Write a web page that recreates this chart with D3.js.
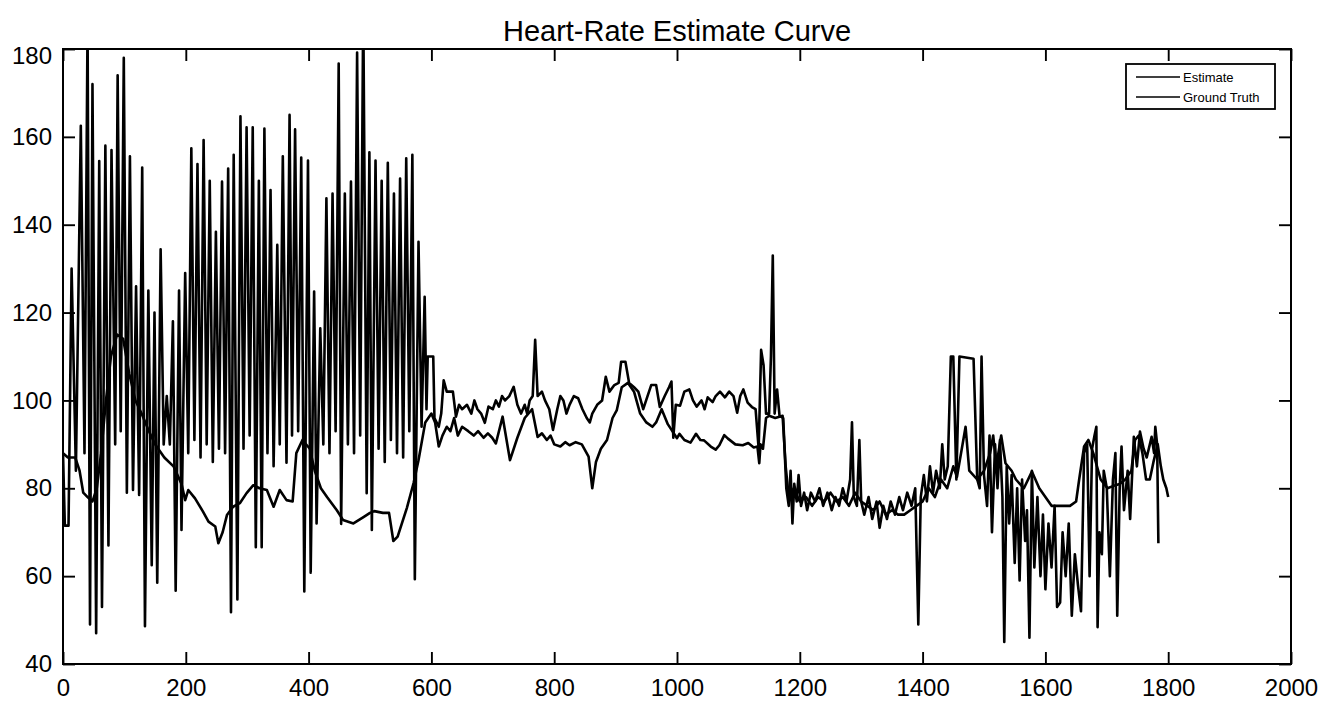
<!DOCTYPE html>
<html>
<head>
<meta charset="utf-8">
<script src="https://cdn.jsdelivr.net/npm/d3@7"></script>
<style>
  body { margin: 0; background: #fff; }
  text { font-family: "Liberation Sans", Arial, sans-serif; fill: #000; }
</style>
</head>
<body>
<div id="chart"></div>
<script>
// chart data: [sample index, heart rate]
var estimate = [
  [0, 88], [3, 71.5], [9, 71.5], [14, 130], [21, 84], [29, 162.5], [35, 88], [40, 186], [44, 49], [48, 172],
  [54, 47], [59, 154.5], [63.5, 53], [69, 158], [74, 67], [79, 157], [85, 90], [89, 174], [94, 93], [99, 178],
  [104, 79], [109, 155.6], [114, 79.6], [119, 126], [124, 78.5], [129, 153], [133.5, 48.6], [139, 125], [144.5, 62.5], [149, 120],
  [153.5, 58.5], [159, 134.4], [164, 90], [169, 101], [174, 90], [179, 118], [183.5, 56.7], [189, 125], [193, 70.5], [199, 129],
  [204, 88], [209, 157.4], [214, 91], [219, 153.8], [224, 87], [229, 159.3], [234, 90], [239, 150], [244, 86], [249, 138.4],
  [254, 89], [259, 149.8], [264, 88], [269, 152.8], [273.6, 51.8], [278, 155.9], [284, 54.7], [289, 164.7], [294, 89], [299, 162.2],
  [304, 92], [309, 162.2], [314, 66.6], [319, 150], [323.6, 66.6], [328, 161.9], [333, 88], [338, 147.9], [343, 85], [349, 135.4],
  [353, 90], [358, 155.6], [364, 85.8], [369, 165], [373, 92], [378, 161.7], [383, 93], [388, 155.3], [393, 56.5], [399, 154.6],
  [403.4, 60.8], [409, 124.8], [413, 72], [419, 116.4], [424, 90], [429, 146], [434, 88], [439, 147.1], [444, 93], [449, 176.7],
  [453, 71.9], [459, 147.1], [464, 90], [469, 149.8], [474, 88], [479, 179.2], [484, 92], [489, 190], [494.6, 78.9], [499, 156.5],
  [503, 70.5], [509, 154.6], [514, 89], [519, 150], [524, 86], [529, 154.1], [534, 91], [539, 147.1], [544, 88], [549, 150.5],
  [554, 87], [559, 155.1], [564, 93], [569, 155.9], [573, 59.3], [579, 136.1], [584, 94], [589, 123.6], [592, 98], [594, 110],
  [603, 110], [605, 96], [612, 94], [616, 97], [620, 104.6], [625, 102], [635, 102], [640, 96.3], [645, 99], [650, 98],
  [658, 99], [665, 97], [670, 100], [675, 98], [681, 97], [687, 94.9], [693, 98.6], [700, 98], [705, 100], [710, 98.6],
  [715, 101], [720, 100], [727, 101], [734, 103.1], [740, 99], [746, 97], [752, 99], [756, 97], [760, 100], [765, 101],
  [769, 113.8], [773, 101], [780, 102], [785, 100], [792, 98], [798, 93.3], [805, 98], [810, 101], [815, 100], [820, 97],
  [825, 99], [832, 101], [839, 100.5], [846, 98], [853, 96], [858, 95], [862, 97], [870, 99], [878, 100], [884, 105.4],
  [890, 102], [898, 103.5], [905, 104], [909, 108.8], [916, 108.8], [922, 104], [930, 103], [937, 102], [945, 98], [952, 101],
  [958, 103.5], [966, 103.5], [972, 98.5], [980, 101], [987, 103], [991, 104.3], [994, 91.5], [998, 99], [1005, 98.8], [1012, 102],
  [1020, 102.5], [1026, 100], [1032, 98.6], [1040, 100], [1045, 98], [1050, 100.7], [1058, 99.6], [1063, 101], [1070, 102], [1078, 100.7],
  [1085, 102], [1092, 101], [1098, 97.2], [1103, 101], [1108, 102.5], [1115, 99.5], [1122, 98.5], [1128, 98], [1133, 89], [1137, 111.5],
  [1141, 108], [1145, 97], [1150, 97], [1153, 110], [1156, 133], [1159, 97], [1163, 102.5], [1167, 96.5], [1173, 96], [1178, 80],
  [1182, 76], [1185, 84], [1188, 72], [1191, 81], [1195, 77], [1198, 83], [1202, 76], [1207, 79], [1212, 75], [1218, 79],
  [1225, 77], [1232, 80], [1238, 76], [1245, 79], [1252, 75], [1258, 78], [1264, 76], [1270, 80], [1276, 77], [1282, 82],
  [1285, 95], [1288, 78], [1293, 76], [1297, 91], [1300, 77], [1305, 74], [1312, 78], [1318, 73], [1325, 77], [1330, 71],
  [1336, 76], [1342, 73], [1348, 77], [1355, 74], [1362, 78], [1368, 75], [1375, 79], [1382, 76], [1388, 80], [1393, 49],
  [1397, 78], [1402, 83], [1407, 77], [1412, 85], [1417, 79], [1422, 84], [1428, 80], [1432, 90], [1436, 82], [1441, 85],
  [1446, 110], [1450, 110], [1455, 82], [1460, 110], [1483, 109.5], [1489, 82], [1493, 80], [1496, 110], [1500, 83], [1505, 76],
  [1509, 92], [1513, 70], [1518, 90], [1522, 80], [1526, 91], [1530, 78], [1533, 45], [1537, 85], [1541, 72], [1545, 83],
  [1550, 63], [1554, 80], [1558, 59], [1562, 82], [1567, 68], [1570, 75], [1574, 46], [1578, 84], [1582, 62], [1587, 78],
  [1592, 60], [1596, 74], [1600, 57], [1605, 72], [1610, 62], [1615, 76], [1619, 53], [1624, 54], [1628, 70], [1633, 60],
  [1638, 72], [1643, 51], [1648, 65], [1653, 58], [1658, 52], [1663, 88], [1668, 90], [1672, 60], [1676, 89], [1680, 92],
  [1683, 94], [1685, 48.4], [1688, 70], [1692, 65], [1695, 84], [1700, 80], [1705, 60], [1710, 82], [1714, 88], [1717, 51],
  [1721, 80], [1724, 89.5], [1728, 75], [1734, 84], [1738, 73], [1744, 91.7], [1749, 85], [1754, 92.9], [1760, 89], [1765, 87],
  [1773, 91.7], [1777, 88], [1779, 94], [1782, 90], [1784, 67.5]
];

var groundTruth = [
  [0, 88], [8, 87], [20, 87], [27, 84], [33, 79], [40, 78], [48, 77], [55, 80], [62, 88], [70, 100],
  [78, 110], [88, 115], [98, 114], [108, 106], [118, 100], [128, 97], [140, 93], [150, 90], [165, 87], [180, 85],
  [193, 81], [199, 77.3], [204, 79.6], [215, 77.7], [228, 74.7], [237, 72.4], [248, 71.3], [253, 67.5], [260, 70], [267, 73.9],
  [277, 75.8], [288, 76.6], [299, 78.9], [310, 80.7], [320, 80], [332, 79.6], [343, 75.8], [353, 79.6], [364, 77.3], [374, 77],
  [380, 88], [390, 91], [402, 89], [410, 84], [420, 80], [430, 78], [446, 75], [456, 72.8], [473, 72], [490, 73.5],
  [500, 74.4], [507, 74.8], [521, 74.4], [531, 74.4], [538, 68], [545, 69], [560, 75.5], [571, 81.2], [579, 86.4], [590, 95],
  [600, 97], [606, 95], [612, 89.5], [618, 92], [625, 94], [631, 93], [637, 96], [643, 92], [650, 94], [660, 93],
  [669, 92], [676, 93], [685, 91.5], [692, 92.5], [699, 91.5], [705, 90.2], [716, 96.3], [728, 86.4], [740, 91.5], [752, 96],
  [764, 98], [773, 91.7], [780, 92.5], [788, 91], [794, 92], [800, 90], [810, 89.5], [818, 90.5], [825, 89.8], [835, 90.5],
  [845, 90], [856, 87.2], [862, 80], [868, 86], [876, 89], [886, 91], [895, 96], [902, 97.8], [910, 103], [920, 104],
  [930, 102], [940, 97], [950, 95], [960, 94], [966, 95], [975, 98], [985, 94.6], [1000, 91.4], [1004, 92.4], [1012, 91],
  [1022, 90.4], [1031, 92.4], [1038, 91], [1044, 90.9], [1055, 89.5], [1063, 88.8], [1069, 89.8], [1077, 92.1], [1083, 91.3], [1095, 90],
  [1107, 89.8], [1116, 90.3], [1125, 89.3], [1131, 89.5], [1134, 85.7], [1136, 90], [1140, 89], [1145, 96], [1150, 96.5], [1160, 96],
  [1172, 96.5], [1177, 85], [1182, 78], [1190, 80], [1200, 77], [1210, 78], [1220, 76], [1230, 78], [1240, 77], [1250, 79],
  [1260, 77], [1270, 78], [1280, 76], [1290, 79], [1300, 77], [1310, 76], [1320, 75], [1330, 77], [1340, 74], [1350, 75],
  [1360, 74], [1370, 74], [1380, 75], [1390, 76], [1400, 77], [1410, 80], [1420, 78], [1430, 82], [1440, 80], [1450, 85],
  [1456, 82.6], [1470, 94], [1476, 84], [1489, 82], [1500, 84], [1510, 88], [1515, 92], [1520, 85], [1528, 92], [1535, 85.7],
  [1545, 84], [1552, 82], [1565, 80], [1578, 83.8], [1590, 80], [1600, 78], [1610, 76], [1620, 76], [1630, 76], [1640, 76],
  [1650, 77], [1655, 82], [1663, 89.5], [1670, 91], [1678, 88], [1690, 82], [1701, 80], [1710, 80.5], [1721, 81], [1730, 82],
  [1740, 84], [1746, 91], [1752, 92], [1758, 88], [1764, 82], [1770, 82], [1776, 86], [1783, 90], [1788, 85], [1792, 82],
  [1797, 80], [1800, 78]
];

var xTicks = [0, 200, 400, 600, 800, 1000, 1200, 1400, 1600, 1800, 2000];
var yTicks = [40, 60, 80, 100, 120, 140, 160, 180];
var seriesNames = ["Estimate", "Ground Truth"];
var chartTitle = "Heart-Rate Estimate Curve";

// canvas
var svgWidth = 1325;
var svgHeight = 702;

var margin = {
  top: 49,
  right: 34,
  bottom: 38,
  left: 63
};

var width = svgWidth - margin.left - margin.right;
var height = svgHeight - margin.top - margin.bottom;

var svg = d3.select("#chart")
  .append("svg")
  .attr("width", svgWidth)
  .attr("height", svgHeight);

var chartGroup = svg.append("g")
  .attr("transform", `translate(${margin.left}, ${margin.top})`);

// scales
var xScale = d3.scaleLinear().domain([0, 2000]).range([0, width]);
var yScale = d3.scaleLinear().domain([40, 180]).range([height, 0]);

// clip lines to the axes box, like matlab does
chartGroup.append("clipPath")
  .attr("id", "plotClip")
  .append("rect")
  .attr("width", width)
  .attr("height", height);

var line = d3.line()
  .x(d => xScale(d[0]))
  .y(d => yScale(d[1]));

var linesGroup = chartGroup.append("g").attr("clip-path", "url(#plotClip)");

[groundTruth, estimate].forEach(function (series) {
  linesGroup.append("path")
    .datum(series)
    .attr("d", line)
    .attr("fill", "none")
    .attr("stroke", "#000")
    .attr("stroke-width", 2.6)
    .attr("stroke-linejoin", "round");
});

// axes, ticks pointing inward on all four sides
function styleAxis(g) {
  g.select(".domain").remove();
  g.selectAll(".tick line").attr("stroke", "#000").attr("stroke-width", 1.9);
  g.selectAll(".tick text").attr("font-size", "24px").attr("fill", "#000");
}

chartGroup.append("g")
  .attr("transform", `translate(0, ${height})`)
  .call(d3.axisBottom(xScale).tickValues(xTicks).tickSize(-12).tickPadding(15).tickFormat(d3.format("d")))
  .call(styleAxis);

chartGroup.append("g")
  .call(d3.axisLeft(yScale).tickValues(yTicks).tickSize(-12).tickPadding(11).tickFormat(d3.format("d")))
  .call(styleAxis);

chartGroup.append("g")
  .call(d3.axisTop(xScale).tickValues(xTicks).tickSize(-12).tickFormat(""))
  .call(styleAxis);

chartGroup.append("g")
  .attr("transform", `translate(${width}, 0)`)
  .call(d3.axisRight(yScale).tickValues(yTicks).tickSize(-12).tickFormat(""))
  .call(styleAxis);

// top label sits a little lower in the reference
chartGroup.selectAll(".tick text")
  .filter(d => d === 180)
  .attr("dy", "0.6em");

// axes box
chartGroup.append("rect")
  .attr("width", width)
  .attr("height", height)
  .attr("fill", "none")
  .attr("stroke", "#000")
  .attr("stroke-width", 2);

// title
svg.append("text")
  .attr("x", margin.left + width / 2)
  .attr("y", 41)
  .attr("text-anchor", "middle")
  .attr("font-size", "29px")
  .text(chartTitle);

// legend
var legend = chartGroup.append("g")
  .attr("transform", `translate(${1126 - margin.left}, ${64 - margin.top})`);

legend.append("rect")
  .attr("width", 149)
  .attr("height", 45)
  .attr("fill", "#fff")
  .attr("stroke", "#000")
  .attr("stroke-width", 1.8);

seriesNames.forEach(function (name, i) {
  var yPos = 13 + i * 20;
  legend.append("line")
    .attr("x1", 10)
    .attr("x2", 54)
    .attr("y1", yPos)
    .attr("y2", yPos)
    .attr("stroke", "#000")
    .attr("stroke-width", 1.6);
  legend.append("text")
    .attr("x", 57)
    .attr("y", yPos)
    .attr("dy", "0.35em")
    .attr("font-size", "13px")
    .text(name);
});
</script>
</body>
</html>
